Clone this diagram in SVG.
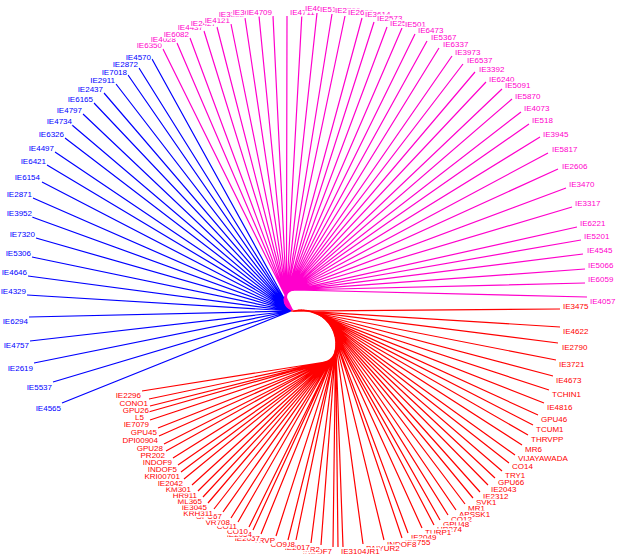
<svg xmlns="http://www.w3.org/2000/svg" width="619" height="559" viewBox="0 0 619 559">
<style>
text{font-family:"Liberation Sans",Arial,sans-serif;font-size:8px}
.e{text-anchor:end}
rect{fill:#fff}
.b text{fill:#0000ff}
.m text{fill:#ff00cc}
.r text{fill:#ff0000}
.cb{stroke:#0000ff}
.cm{stroke:#ff00cc}
.cr{stroke:#ff0000}
</style>
<rect x="0" y="0" width="619" height="559" fill="#fff"/>
<g id="connectors" fill="none" stroke-width="1.2">
<path class="cb" d="M291,311L152,59M291,311L139,68M291,311L128,75M291,311L116,84M291,311L104,93M291,311L94,103M291,311L83,114M291,311L72,125M291,311L65,138M291,311L55,152M291,311L47,165M291,311L42,182M291,311L33,198M291,311L32,217M291,311L36,238M291,311L32,257M291,311L28,276M291,311L27,295M291,311L29,317M291,311L30,341M291,311L34,363M291,311L53,382M291,311L62,403"/>
<path class="cm" d="M291,311L292.3,309.8A10,10 0 0 1 294,290"/>
<path class="cm" d="M292.3,309.8L163,49M291.5,309.7L177,43M290.8,309.5L190,38M290.1,309.2L204,31M289.4,308.9L217,27M288.7,308.5L231,24M288.1,308.1L245,18M287.5,307.6L259,16M287,307.1L273,16M286.4,306.5L287,16M286,305.9L302,12M285.5,305.3L317,13M285.2,304.6L332,14M284.8,304L345,16M284.5,303.3L362,18M284.3,302.5L374,22M284.2,301.8L387,27M284.1,301L402,28M284,300.3L415,34M284,299.5L427,41M284.1,298.7L439,48M284.2,298L452,56M284.4,297.3L463,64M284.6,296.5L475,72M284.9,295.8L486,82M285.3,295.2L502,89M285.6,294.5L512,99M286.1,293.9L521,112M286.6,293.3L529,124M287.1,292.8L540,137M287.7,292.3L548,153M288.3,291.8L558,169M288.9,291.4L566,188M289.6,291L572,207M290.3,290.7L577,227M291,290.5L581,240M291.7,290.3L583,254M292.5,290.1L585,269M293.2,290L585,283M294,290L587,297"/>
<path class="cr" d="M291,311L293.2,311.2A34,34 0 0 1 331.4,361"/>
<path class="cr" d="M293.2,311.2L560,309M295.7,310.6L560,327M298.2,310.2L558,343M300.7,310L556,360M303.2,310L553,376M305.7,310.2L549,390M308.2,310.6L544,403M310.7,311.1L538,415M313.1,311.9L533,425M315.4,312.8L528,435M317.7,313.8L522,445M319.9,315.1L515,455M322,316.5L509,463M324,318.1L502,471M325.8,319.7L495,478M327.6,321.6L488,485M329.2,323.5L480,492M330.6,325.6L473,498M331.9,327.8L465,504M333,330L456,510M334,332.4L448,515M334.5,334.1L440,520M335,335.8L434,525M335.4,337.5L422,528M335.7,339.3L408,533M335.9,341L402,538M336,342.8L384,540M336,344.6L363,544M335.9,346.4L343,547M335.7,348.1L338,547M335.5,349.9L333,547M335.4,350.3L321,545M335.3,350.7L311,543M335.2,351.1L296,540M335.2,351.5L288,540M335.1,351.9L276,536M335,352.3L261,534M334.9,352.7L253,530M334.8,353.1L249,527M334.6,353.5L238,522M334.5,353.9L231,518M334.4,354.3L223,512M334.3,354.7L214,509M334.2,355.1L208,503M334,355.4L203,497M333.9,355.8L198,491M333.7,356.2L192,485M333.6,356.6L184,479M333.4,357L181,472M333.3,357.3L178,465M333.1,357.7L173,458M332.9,358.1L166,451M332.8,358.5L164,444M332.6,358.8L159,436M332.4,359.2L158,428M332.2,359.6L150,420M332,359.9L145,413M331.8,360.3L150,406M331.6,360.6L149,399M331.4,361L142,391"/>
</g>
<g id="blue-tips" class="b">
<g id="n-IE4570"><rect x="125.1" y="53.5" width="26.4" height="8"/><text class="e" x="151" y="60">IE4570</text></g>
<g id="n-IE2872"><rect x="112.1" y="60.5" width="26.4" height="8"/><text class="e" x="138" y="67">IE2872</text></g>
<g id="n-IE7018"><rect x="101.1" y="68.5" width="26.4" height="8"/><text class="e" x="127" y="75">IE7018</text></g>
<g id="n-IE2911"><rect x="89.1" y="76.5" width="26.4" height="8"/><text class="e" x="115" y="83">IE2911</text></g>
<g id="n-IE2437"><rect x="77.1" y="85.5" width="26.4" height="8"/><text class="e" x="103" y="92">IE2437</text></g>
<g id="n-IE6165"><rect x="67.1" y="95.5" width="26.4" height="8"/><text class="e" x="93" y="102">IE6165</text></g>
<g id="n-IE4797"><rect x="56.1" y="106.5" width="26.4" height="8"/><text class="e" x="82" y="113">IE4797</text></g>
<g id="n-IE4734"><rect x="46.1" y="117.5" width="26.4" height="8"/><text class="e" x="72" y="124">IE4734</text></g>
<g id="n-IE6326"><rect x="38.1" y="130.5" width="26.4" height="8"/><text class="e" x="64" y="137">IE6326</text></g>
<g id="n-IE4497"><rect x="28.1" y="144.5" width="26.4" height="8"/><text class="e" x="54" y="151">IE4497</text></g>
<g id="n-IE6421"><rect x="20.1" y="157.5" width="26.4" height="8"/><text class="e" x="46" y="164">IE6421</text></g>
<g id="n-IE6154"><rect x="14.1" y="173.5" width="26.4" height="8"/><text class="e" x="40" y="180">IE6154</text></g>
<g id="n-IE2871"><rect x="6.1" y="190.5" width="26.4" height="8"/><text class="e" x="32" y="197">IE2871</text></g>
<g id="n-IE3952"><rect x="6.1" y="209.5" width="26.4" height="8"/><text class="e" x="32" y="216">IE3952</text></g>
<g id="n-IE7320"><rect x="9.1" y="230.5" width="26.4" height="8"/><text class="e" x="35" y="237">IE7320</text></g>
<g id="n-IE5306"><rect x="5.1" y="249.5" width="26.4" height="8"/><text class="e" x="31" y="256">IE5306</text></g>
<g id="n-IE4646"><rect x="1.1" y="268.5" width="26.4" height="8"/><text class="e" x="27" y="275">IE4646</text></g>
<g id="n-IE4329"><rect x="0.1" y="287.5" width="26.4" height="8"/><text class="e" x="26" y="294">IE4329</text></g>
<g id="n-IE6294"><rect x="2.1" y="317.5" width="26.4" height="8"/><text class="e" x="28" y="324">IE6294</text></g>
<g id="n-IE4757"><rect x="3.1" y="341.5" width="26.4" height="8"/><text class="e" x="29" y="348">IE4757</text></g>
<g id="n-IE2619"><rect x="7.1" y="364.5" width="26.4" height="8"/><text class="e" x="33" y="371">IE2619</text></g>
<g id="n-IE5537"><rect x="26.1" y="383.5" width="26.4" height="8"/><text class="e" x="52" y="390">IE5537</text></g>
<g id="n-IE4565"><rect x="35.1" y="404.5" width="26.4" height="8"/><text class="e" x="61" y="411">IE4565</text></g>
</g>
<g id="magenta-tips" class="m">
<g id="n-IE6350"><rect x="136.1" y="41.5" width="26.4" height="8"/><text class="e" x="162" y="48">IE6350</text></g>
<g id="n-IE4028"><rect x="150.1" y="35.5" width="26.4" height="8"/><text class="e" x="176" y="42">IE4028</text></g>
<g id="n-IE6082"><rect x="163.1" y="30.5" width="26.4" height="8"/><text class="e" x="189" y="37">IE6082</text></g>
<g id="n-IE4437"><rect x="177.1" y="23.5" width="26.4" height="8"/><text class="e" x="203" y="30">IE4437</text></g>
<g id="n-IE2427"><rect x="190.1" y="19.5" width="26.4" height="8"/><text class="e" x="216" y="26">IE2427</text></g>
<g id="n-IE4121"><rect x="204.1" y="16.5" width="26.4" height="8"/><text class="e" x="230" y="23">IE4121</text></g>
<g id="n-IE3382"><rect x="218.1" y="10.5" width="26.4" height="8"/><text class="e" x="244" y="17">IE3382</text></g>
<g id="n-IE3652"><rect x="232.1" y="8.5" width="26.4" height="8"/><text class="e" x="258" y="15">IE3652</text></g>
<g id="n-IE4709"><rect x="246.1" y="8.5" width="26.4" height="8"/><text class="e" x="272" y="15">IE4709</text></g>
<g id="n-IE4711"><rect x="289.5" y="8.5" width="26.4" height="8"/><text x="290" y="15">IE4711</text></g>
<g id="n-IE4615"><rect x="304.5" y="4.5" width="26.4" height="8"/><text x="305" y="11">IE4615</text></g>
<g id="n-IE5121"><rect x="319.5" y="5.5" width="26.4" height="8"/><text x="320" y="12">IE5121</text></g>
<g id="n-IE2766"><rect x="334.5" y="6.5" width="26.4" height="8"/><text x="335" y="13">IE2766</text></g>
<g id="n-IE2629"><rect x="347.5" y="8.5" width="26.4" height="8"/><text x="348" y="15">IE2629</text></g>
<g id="n-IE3614"><rect x="364.5" y="10.5" width="26.4" height="8"/><text x="365" y="17">IE3614</text></g>
<g id="n-IE2573"><rect x="376.5" y="14.5" width="26.4" height="8"/><text x="377" y="21">IE2573</text></g>
<g id="n-IE2519"><rect x="389.5" y="19.5" width="26.4" height="8"/><text x="390" y="26">IE2519</text></g>
<g id="n-IE501"><rect x="404.5" y="20.5" width="21.9" height="8"/><text x="405" y="27">IE501</text></g>
<g id="n-IE6473"><rect x="417.5" y="26.5" width="26.4" height="8"/><text x="418" y="33">IE6473</text></g>
<g id="n-IE5367"><rect x="430.5" y="33.5" width="26.4" height="8"/><text x="431" y="40">IE5367</text></g>
<g id="n-IE6337"><rect x="442.5" y="40.5" width="26.4" height="8"/><text x="443" y="47">IE6337</text></g>
<g id="n-IE3973"><rect x="454.5" y="48.5" width="26.4" height="8"/><text x="455" y="55">IE3973</text></g>
<g id="n-IE6537"><rect x="466.5" y="56.5" width="26.4" height="8"/><text x="467" y="63">IE6537</text></g>
<g id="n-IE3392"><rect x="478.5" y="65.5" width="26.4" height="8"/><text x="479" y="72">IE3392</text></g>
<g id="n-IE6240"><rect x="488.5" y="75.5" width="26.4" height="8"/><text x="489" y="82">IE6240</text></g>
<g id="n-IE5091"><rect x="504.5" y="81.5" width="26.4" height="8"/><text x="505" y="88">IE5091</text></g>
<g id="n-IE5870"><rect x="514.5" y="92.5" width="26.4" height="8"/><text x="515" y="99">IE5870</text></g>
<g id="n-IE4073"><rect x="523.5" y="104.5" width="26.4" height="8"/><text x="524" y="111">IE4073</text></g>
<g id="n-IE518"><rect x="531.5" y="116.5" width="21.9" height="8"/><text x="532" y="123">IE518</text></g>
<g id="n-IE3945"><rect x="542.5" y="130.5" width="26.4" height="8"/><text x="543" y="137">IE3945</text></g>
<g id="n-IE5817"><rect x="551.5" y="145.5" width="26.4" height="8"/><text x="552" y="152">IE5817</text></g>
<g id="n-IE2606"><rect x="561.5" y="162.5" width="26.4" height="8"/><text x="562" y="169">IE2606</text></g>
<g id="n-IE3470"><rect x="568.5" y="180.5" width="26.4" height="8"/><text x="569" y="187">IE3470</text></g>
<g id="n-IE3317"><rect x="574.5" y="199.5" width="26.4" height="8"/><text x="575" y="206">IE3317</text></g>
<g id="n-IE6221"><rect x="579.5" y="219.5" width="26.4" height="8"/><text x="580" y="226">IE6221</text></g>
<g id="n-IE5201"><rect x="583.5" y="232.5" width="26.4" height="8"/><text x="584" y="239">IE5201</text></g>
<g id="n-IE4545"><rect x="586.5" y="246.5" width="26.4" height="8"/><text x="587" y="253">IE4545</text></g>
<g id="n-IE5066"><rect x="587.5" y="261.5" width="26.4" height="8"/><text x="588" y="268">IE5066</text></g>
<g id="n-IE6059"><rect x="587.5" y="275.5" width="26.4" height="8"/><text x="588" y="282">IE6059</text></g>
<g id="n-IE4057"><rect x="589.5" y="297.5" width="26.4" height="8"/><text x="590" y="304">IE4057</text></g>
</g>
<g id="red-tips" class="r">
<g id="n-IE3475"><rect x="562.5" y="302.5" width="26.4" height="8"/><text x="563" y="309">IE3475</text></g>
<g id="n-IE4622"><rect x="562.5" y="327.5" width="26.4" height="8"/><text x="563" y="334">IE4622</text></g>
<g id="n-IE2790"><rect x="561.5" y="343.5" width="26.4" height="8"/><text x="562" y="350">IE2790</text></g>
<g id="n-IE3721"><rect x="558.5" y="360.5" width="26.4" height="8"/><text x="559" y="367">IE3721</text></g>
<g id="n-IE4673"><rect x="555.5" y="376.5" width="26.4" height="8"/><text x="556" y="383">IE4673</text></g>
<g id="n-TCHIN1"><rect x="551.5" y="390.5" width="29.9" height="8"/><text x="552" y="397">TCHIN1</text></g>
<g id="n-IE4816"><rect x="546.5" y="403.5" width="26.4" height="8"/><text x="547" y="410">IE4816</text></g>
<g id="n-GPU46"><rect x="540.5" y="415.5" width="27.2" height="8"/><text x="541" y="422">GPU46</text></g>
<g id="n-TCUM1"><rect x="535.5" y="425.5" width="28.6" height="8"/><text x="536" y="432">TCUM1</text></g>
<g id="n-THRVPP"><rect x="530.5" y="435.5" width="33.5" height="8"/><text x="531" y="442">THRVPP</text></g>
<g id="n-MR6"><rect x="524.5" y="445.5" width="17.9" height="8"/><text x="525" y="452">MR6</text></g>
<g id="n-VIJAYAWADA"><rect x="517.5" y="454.5" width="52.6" height="8"/><text x="518" y="461">VIJAYAWADA</text></g>
<g id="n-CO14"><rect x="511.5" y="462.5" width="21.9" height="8"/><text x="512" y="469">CO14</text></g>
<g id="n-TRY1"><rect x="504.5" y="471.5" width="21.5" height="8"/><text x="505" y="478">TRY1</text></g>
<g id="n-GPU66"><rect x="497.5" y="478.5" width="27.2" height="8"/><text x="498" y="485">GPU66</text></g>
<g id="n-IE2043"><rect x="490.5" y="485.5" width="26.4" height="8"/><text x="491" y="492">IE2043</text></g>
<g id="n-IE2312"><rect x="482.5" y="492.5" width="26.4" height="8"/><text x="483" y="499">IE2312</text></g>
<g id="n-SVK1"><rect x="475.5" y="498.5" width="21.5" height="8"/><text x="476" y="505">SVK1</text></g>
<g id="n-MR1"><rect x="467.5" y="504.5" width="17.9" height="8"/><text x="468" y="511">MR1</text></g>
<g id="n-APSSK1"><rect x="458.5" y="510.5" width="32.2" height="8"/><text x="459" y="517">APSSK1</text></g>
<g id="n-CO12"><rect x="450.5" y="515.5" width="21.9" height="8"/><text x="451" y="522">CO12</text></g>
<g id="n-GPU48"><rect x="442.5" y="520.5" width="27.2" height="8"/><text x="443" y="527">GPU48</text></g>
<g id="n-HR274"><rect x="436.5" y="525.5" width="25.9" height="8"/><text x="437" y="532">HR274</text></g>
<g id="n-TURP1"><rect x="424.5" y="528.5" width="27.2" height="8"/><text x="425" y="535">TURP1</text></g>
<g id="n-IE2049"><rect x="410.5" y="533.5" width="26.4" height="8"/><text x="411" y="540">IE2049</text></g>
<g id="n-IE2755"><rect x="404.5" y="538.5" width="26.4" height="8"/><text x="405" y="545">IE2755</text></g>
<g id="n-INDOF8"><rect x="386.5" y="540.5" width="30.3" height="8"/><text x="387" y="547">INDOF8</text></g>
<g id="n-PAIYUR2"><rect x="365.5" y="544.5" width="35.2" height="8"/><text x="366" y="551">PAIYUR2</text></g>
<g id="n-PAIYUR1"><rect x="345.5" y="547.5" width="35.2" height="8"/><text x="346" y="554">PAIYUR1</text></g>
<g id="n-IE3104"><rect x="340.5" y="547.5" width="26.4" height="8"/><text x="341" y="554">IE3104</text></g>
<g id="n-INDOF7"><rect x="302.2" y="547.5" width="30.3" height="8"/><text class="e" x="332" y="554">INDOF7</text></g>
<g id="n-MR2"><rect x="302.6" y="545.5" width="17.9" height="8"/><text class="e" x="320" y="552">MR2</text></g>
<g id="n-IE2017"><rect x="284.1" y="543.5" width="26.4" height="8"/><text class="e" x="310" y="550">IE2017</text></g>
<g id="n-GPU8"><rect x="272.7" y="540.5" width="22.8" height="8"/><text class="e" x="295" y="547">GPU8</text></g>
<g id="n-CO9"><rect x="270.1" y="540.5" width="17.5" height="8"/><text class="e" x="287" y="547">CO9</text></g>
<g id="n-TRVP"><rect x="253.2" y="536.5" width="22.4" height="8"/><text class="e" x="275" y="543">TRVP</text></g>
<g id="n-IE2057"><rect x="234.1" y="534.5" width="26.4" height="8"/><text class="e" x="260" y="541">IE2057</text></g>
<g id="n-IE2054"><rect x="226.1" y="530.5" width="26.4" height="8"/><text class="e" x="252" y="537">IE2054</text></g>
<g id="n-CO10"><rect x="226.6" y="527.5" width="21.9" height="8"/><text class="e" x="248" y="534">CO10</text></g>
<g id="n-CO11"><rect x="215.6" y="522.5" width="21.9" height="8"/><text class="e" x="237" y="529">CO11</text></g>
<g id="n-VR708"><rect x="205" y="518.5" width="25.5" height="8"/><text class="e" x="230" y="525">VR708</text></g>
<g id="n-GPU67"><rect x="195.3" y="512.5" width="27.2" height="8"/><text class="e" x="222" y="519">GPU67</text></g>
<g id="n-KRH311"><rect x="182.3" y="509.5" width="31.2" height="8"/><text class="e" x="213" y="516">KRH311</text></g>
<g id="n-IE3045"><rect x="181.1" y="503.5" width="26.4" height="8"/><text class="e" x="207" y="510">IE3045</text></g>
<g id="n-ML365"><rect x="177" y="497.5" width="25.5" height="8"/><text class="e" x="202" y="504">ML365</text></g>
<g id="n-HR911"><rect x="171.6" y="491.5" width="25.9" height="8"/><text class="e" x="197" y="498">HR911</text></g>
<g id="n-KM301"><rect x="165.2" y="485.5" width="26.4" height="8"/><text class="e" x="191" y="492">KM301</text></g>
<g id="n-IE2042"><rect x="157.1" y="479.5" width="26.4" height="8"/><text class="e" x="183" y="486">IE2042</text></g>
<g id="n-KRI00701"><rect x="143.9" y="472.5" width="36.6" height="8"/><text class="e" x="180" y="479">KRI00701</text></g>
<g id="n-INDOF5"><rect x="147.2" y="465.5" width="30.3" height="8"/><text class="e" x="177" y="472">INDOF5</text></g>
<g id="n-INDOF9"><rect x="142.2" y="458.5" width="30.3" height="8"/><text class="e" x="172" y="465">INDOF9</text></g>
<g id="n-PR202"><rect x="140" y="451.5" width="25.5" height="8"/><text class="e" x="165" y="458">PR202</text></g>
<g id="n-GPU28"><rect x="136.3" y="444.5" width="27.2" height="8"/><text class="e" x="163" y="451">GPU28</text></g>
<g id="n-DPI00904"><rect x="121.9" y="436.5" width="36.6" height="8"/><text class="e" x="158" y="443">DPI00904</text></g>
<g id="n-GPU45"><rect x="130.3" y="428.5" width="27.2" height="8"/><text class="e" x="157" y="435">GPU45</text></g>
<g id="n-IE7079"><rect x="123.1" y="420.5" width="26.4" height="8"/><text class="e" x="149" y="427">IE7079</text></g>
<g id="n-L5"><rect x="134.6" y="413.5" width="9.9" height="8"/><text class="e" x="144" y="420">L5</text></g>
<g id="n-GPU26"><rect x="122.3" y="406.5" width="27.2" height="8"/><text class="e" x="149" y="413">GPU26</text></g>
<g id="n-CONO1"><rect x="119" y="399.5" width="29.5" height="8"/><text class="e" x="148" y="406">CONO1</text></g>
<g id="n-IE2296"><rect x="115.1" y="391.5" width="26.4" height="8"/><text class="e" x="141" y="398">IE2296</text></g>
</g>
</svg>
